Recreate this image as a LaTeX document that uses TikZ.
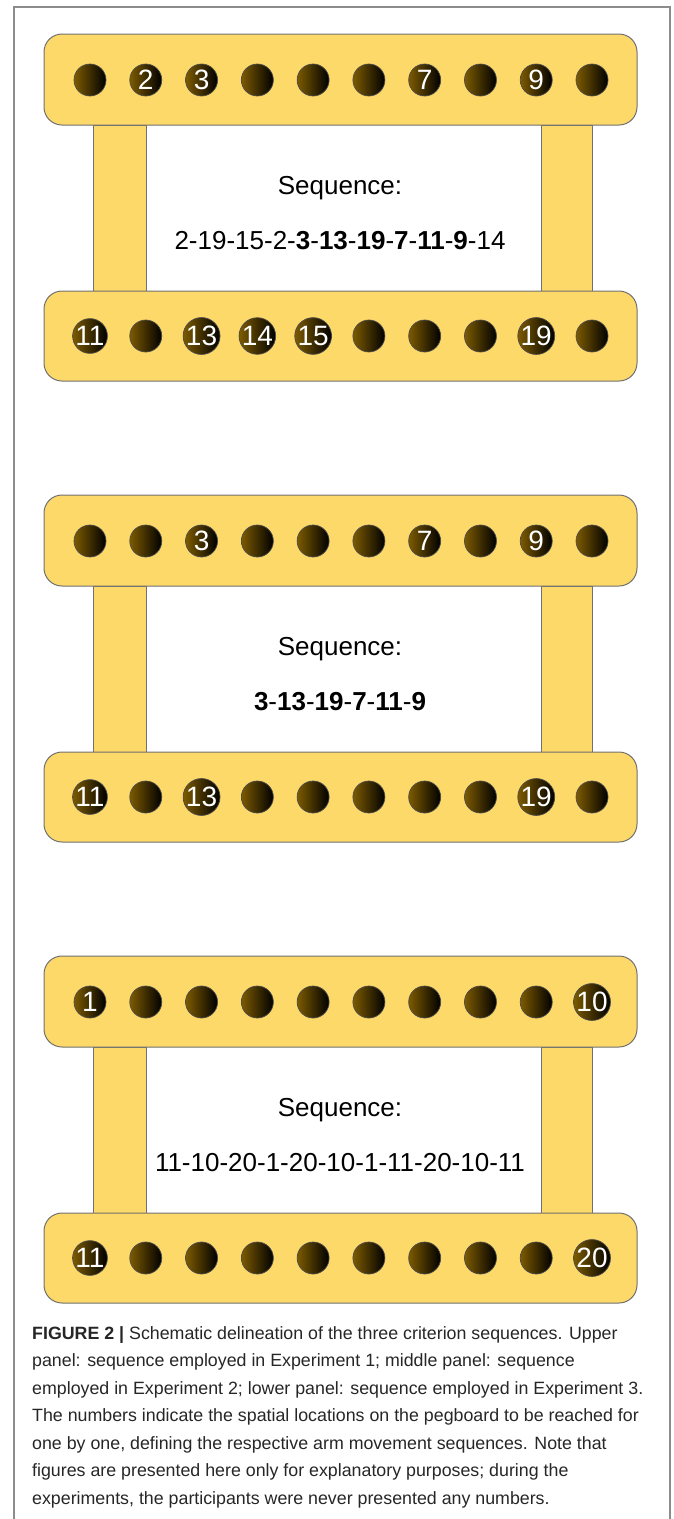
\documentclass[tikz,border=0pt]{standalone}
\usepackage{fontspec}
\setmainfont{Liberation Sans}
\usepackage{tikz}
\usetikzlibrary{calc}
\definecolor{boardyellow}{RGB}{253,217,106}
\definecolor{boardline}{RGB}{112,112,112}
\definecolor{pegbrown}{RGB}{124,90,0}
\definecolor{framegray}{RGB}{140,140,140}
\tikzset{
  board/.style={fill=boardyellow,draw=boardline,line width=1pt},
  peg/.style={circle,minimum size=32pt,inner sep=0pt,draw=black!70,line width=0.7pt,
    left color=pegbrown,right color=black,text=white,font=\fontsize{28}{28}\selectfont},
  seqtext/.style={font=\fontsize{26}{30}\selectfont,inner sep=0pt,anchor=base}
}
% one panel: #1 name, #2 top edge, #3 upper labels, #4 lower labels, #5 sequence
\newcommand{\pegboard}[5]{%
  % legs
  \draw[board] (93,#2+91) rectangle (146,#2+257);
  \draw[board] (541,#2+91) rectangle (592,#2+257);
  % upper and lower boards
  \draw[board,rounded corners=18pt] (44,#2) rectangle (637,#2+91);
  \draw[board,rounded corners=18pt] (44,#2+257) rectangle (637,#2+347);
  % pegs
  \foreach \lab [count=\i] in {#3}
    \node[peg] (#1t\i) at ({90+55.78*(\i-1)},#2+46) {\lab};
  \foreach \lab [count=\i] in {#4}
    \node[peg] (#1b\i) at ({90+55.78*(\i-1)},#2+302) {\lab};
  % sequence text
  \node[seqtext] (#1head) at (340,#2+160) {Sequence:};
  \node[seqtext] (#1seq) at (340,#2+215) {#5};
}

\begin{document}
\begin{tikzpicture}[x=1pt,y=-1pt]
  \useasboundingbox (0,0) rectangle (673,1519);
  % outer frame
  \draw[framegray,line width=1.5pt] (14,1519) -- (14,7) -- (670,7) -- (670,1519);
  % upper panel
  \pegboard{a}{34}{{},2,3,{},{},{},7,{},9,{}}{11,{},13,14,15,{},{},{},19,{}}%
    {2-19-15-2-\textbf{3}-\textbf{13}-\textbf{19}-\textbf{7}-\textbf{11}-\textbf{9}-14}
  % middle panel
  \pegboard{b}{495}{{},{},3,{},{},{},7,{},9,{}}{11,{},13,{},{},{},{},{},19,{}}%
    {\textbf{3}-\textbf{13}-\textbf{19}-\textbf{7}-\textbf{11}-\textbf{9}}
  % lower panel
  \pegboard{c}{956}{1,{},{},{},{},{},{},{},{},10}{11,{},{},{},{},{},{},{},{},20}%
    {11-10-20-1-20-10-1-11-20-10-11}
  % caption
  \node[anchor=north west,align=left,inner sep=0pt,text=black!85,
    font=\fontsize{17.8}{27.5}\selectfont] (caption) at (32,1326)
    {\textbf{FIGURE 2 |} Schematic delineation of the three criterion sequences. Upper\\
     panel: sequence employed in Experiment 1; middle panel: sequence\\
     employed in Experiment 2; lower panel: sequence employed in Experiment 3.\\
     The numbers indicate the spatial locations on the pegboard to be reached for\\
     one by one, defining the respective arm movement sequences. Note that\\
     figures are presented here only for explanatory purposes; during the\\
     experiments, the participants were never presented any numbers.};
\end{tikzpicture}
\end{document}
